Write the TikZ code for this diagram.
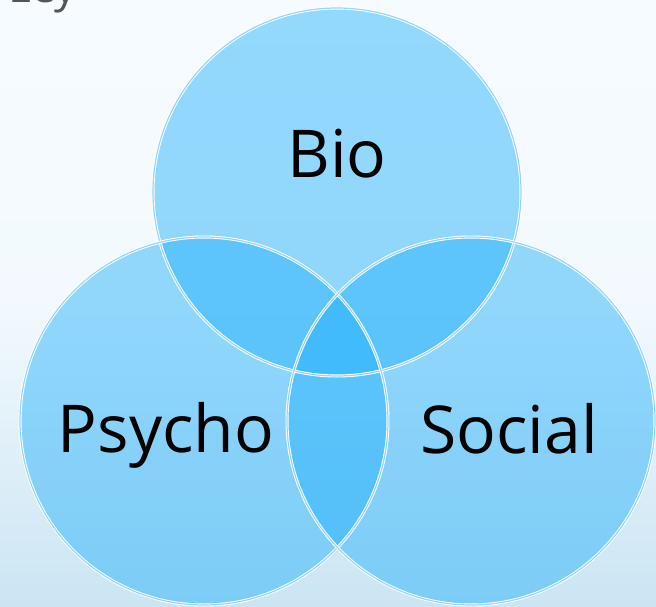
\documentclass[tikz,border=0pt]{standalone}
\usepackage{fontspec}
\setmainfont{Open Sans}
\begin{document}
\begin{tikzpicture}[x=1pt,y=-1pt]
\definecolor{bgtop}{RGB}{246,251,255}
\definecolor{bgbot}{RGB}{203,229,243}
\definecolor{circfill}{RGB}{36,177,251}
\definecolor{ringmid}{RGB}{150,214,250}
\definecolor{titlegray}{RGB}{85,85,85}
\tikzset{
  venn/.style={circle, minimum size=368pt, inner sep=0pt},
  ring/.style={draw=white, line width=0.9pt, double=ringmid, double distance=1.2pt},
  lbl/.style={anchor=base, inner sep=0pt, font=\fontsize{66}{72}\selectfont}
}
\useasboundingbox (0,0) rectangle (656,607);
\clip (0,0) rectangle (656,607);
\shade[top color=bgtop, bottom color=bgbot, middle color=bgtop!92!bgbot, shading angle=0] (0,0) rectangle (656,607);
\node[anchor=base west, inner sep=0pt, text=titlegray, font=\fontsize{44}{50}\selectfont] (title) at (8,3) {Ley};
% circles
\node[venn] (bio) at (337,192) {};
\node[venn] (psycho) at (204,421) {};
\node[venn] (social) at (471,421) {};
\fill[circfill, fill opacity=0.47] (bio.center) circle[radius=184pt];
\fill[circfill, fill opacity=0.47] (psycho.center) circle[radius=184pt];
\fill[circfill, fill opacity=0.47] (social.center) circle[radius=184pt];
\draw[ring] (bio.center) circle[radius=184pt];
\draw[ring] (psycho.center) circle[radius=184pt];
\draw[ring] (social.center) circle[radius=184pt];
% labels
\node[lbl] (biot) at (337,178) {Bio};
\node[lbl] (psychot) at (166,452) {Psycho};
\node[lbl] (socialt) at (509,453) {Social};
\end{tikzpicture}
\end{document}
